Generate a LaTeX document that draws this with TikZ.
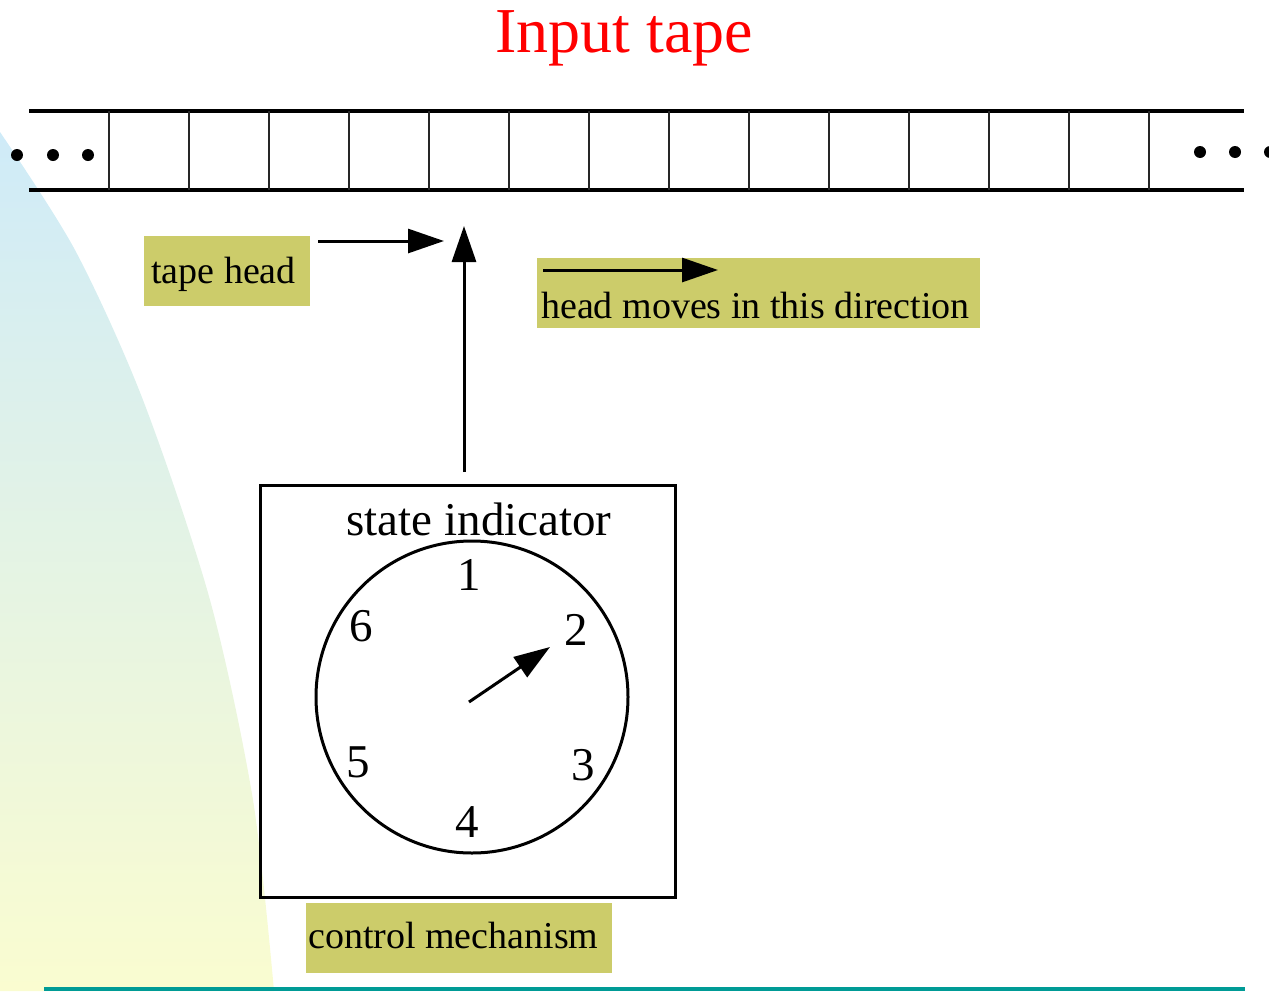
\documentclass[tikz,border=0pt]{standalone}
\usepackage{fontspec}
\setmainfont{Liberation Serif}
\usetikzlibrary{arrows.meta}
\definecolor{olive}{RGB}{204,204,106}
\definecolor{skytop}{RGB}{207,235,248}
\definecolor{creambot}{RGB}{250,252,208}
\definecolor{tealline}{RGB}{0,155,150}
\tikzset{
  arr/.style={line width=3pt,-{Triangle[length=36pt,width=24pt]}},
  labelbox/.style={fill=olive,inner sep=0pt,outer sep=0pt,anchor=north west},
  lbltext/.style={inner sep=0pt,font=\fontsize{38}{40}\selectfont,anchor=base west},
  dial/.style={inner sep=0pt,font=\fontsize{47}{50}\selectfont,anchor=base},
  tapeedge/.style={line width=3.5pt},
  cellwall/.style={line width=2pt,black!85},
  tapedot/.style={fill=black},
}
\begin{document}
\begin{tikzpicture}[x=1pt,y=-1pt]
\useasboundingbox (0,0) rectangle (1269,991);

% soft background swoosh on the left
\shade[top color=skytop,bottom color=creambot]
  (0,132) plot[smooth] coordinates {(0,132) (75,250) (143,400) (210,600) (253,800) (274,991)}
  -- (0,991) -- cycle;

% rule along the bottom
\coordinate (ruleL) at (44,989);
\coordinate (ruleR) at (1245,989);
\draw[tealline,line width=4pt] (ruleL) -- (ruleR);

% title
\node[text=red,inner sep=0pt,anchor=base,font=\fontsize{64}{66}\selectfont] (title) at (624,52) {Input tape};

% the tape
\coordinate (tapeTL) at (29,111);
\coordinate (tapeTR) at (1244,111);
\coordinate (tapeBL) at (29,190);
\coordinate (tapeBR) at (1244,190);
\draw[tapeedge] (tapeTL) -- (tapeTR);
\draw[tapeedge] (tapeBL) -- (tapeBR);
\foreach \i in {0,...,13}{
  \draw[cellwall] (109+80*\i,111) -- (109+80*\i,190);
}
\foreach \x in {17,53,88}{ \fill[tapedot] (\x,155) circle[radius=6pt]; }
\foreach \x in {1200,1235,1270}{ \fill[tapedot] (\x,152) circle[radius=6pt]; }

% tape head label and arrow
\node[labelbox,minimum width=166pt,minimum height=70pt] (thbox) at (144,236) {};
\node[lbltext] (thtext) at (151,283) {tape head};
\coordinate (thA) at (318,241);
\coordinate (thB) at (444,241);
\draw[arr] (thA) -- (thB);

% direction label
\node[labelbox,minimum width=443pt,minimum height=70pt] (hmbox) at (537,258) {};
\node[lbltext] (hmtext) at (541,318) {head moves in this direction};
\coordinate (hmA) at (543,270);
\coordinate (hmB) at (718,270);
\draw[arr] (hmA) -- (hmB);

% control mechanism
\node[draw,line width=3pt,inner sep=0pt,outer sep=0pt,anchor=north west,
      minimum width=415pt,minimum height=412pt] (ctrl) at (260,485) {};
\coordinate (stem) at (464,472);
\coordinate (headpt) at (464,226);
\draw[arr] (stem) -- (headpt);

\node[inner sep=0pt,anchor=base,font=\fontsize{47}{50}\selectfont] (sitext) at (479,535) {state indicator};

% dial
\node[draw,circle,line width=3pt,minimum size=312pt,inner sep=0pt] (dialc) at (472,697) {};
\node[dial] (d1) at (469,590) {1};
\node[dial] (d2) at (576,645) {2};
\node[dial] (d3) at (583,780) {3};
\node[dial] (d4) at (467,837) {4};
\node[dial] (d5) at (358,777) {5};
\node[dial] (d6) at (361,641) {6};
\coordinate (handA) at (469,702);
\coordinate (handB) at (550,647);
\draw[arr] (handA) -- (handB);

\node[labelbox,minimum width=306pt,minimum height=70pt] (cmbox) at (306,903) {};
\node[lbltext] (cmtext) at (308,948) {control mechanism};
\end{tikzpicture}
\end{document}
